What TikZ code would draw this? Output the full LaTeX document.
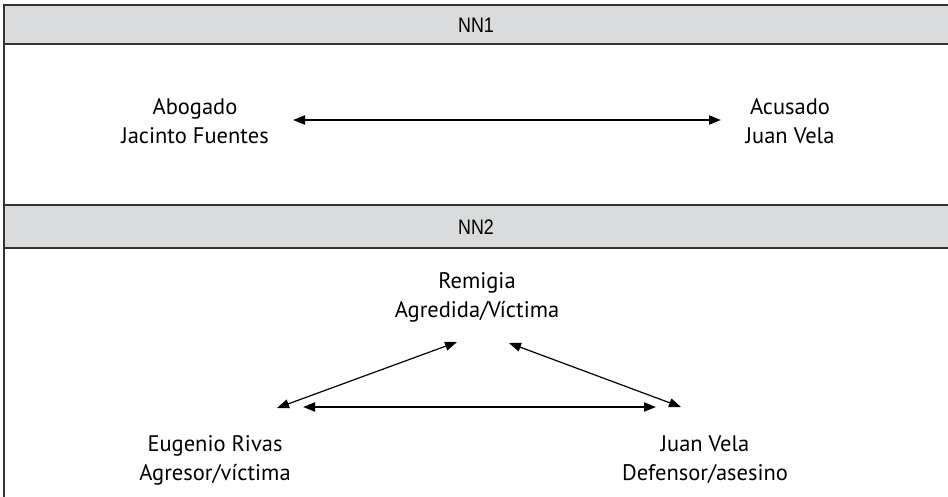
\documentclass[tikz,border=0pt]{standalone}
\usepackage{fontspec}
\setmainfont{PT Sans}
\newfontfamily\hdrfont[FakeStretch=0.85]{Liberation Sans}
\usetikzlibrary{arrows.meta}
\definecolor{hdrgrey}{HTML}{D9DADC}
\definecolor{framegrey}{HTML}{333333}
\tikzset{
  lbl/.style={align=center, font=\fontsize{22.5}{29}\selectfont, inner sep=0pt},
  hdr/.style={font=\hdrfont\fontsize{21}{22}\selectfont, inner sep=0pt},
  frameline/.style={draw=framegrey, line width=2pt},
  rel/.style={{Triangle[length=12pt,width=9pt]}-{Triangle[length=12pt,width=9pt]}, line width=1.2pt},
  rel2/.style={{Triangle[length=12pt,width=9pt]}-{Triangle[length=12pt,width=9pt]}, line width=2pt}
}
\begin{document}
\begin{tikzpicture}[x=1pt,y=-1pt]
\useasboundingbox (0,0) rectangle (948,496);
% header bands
\fill[hdrgrey] (4,5) rectangle (950,44);
\fill[hdrgrey] (4,205) rectangle (950,248);
\draw[frameline] (950,5) -- (4,5) -- (4,497);
\draw[frameline] (4,44) -- (950,44);
\draw[frameline] (4,205) -- (950,205);
\draw[frameline] (4,248) -- (950,248);
\node[hdr] (h1) at (476,25) {NN1};
\node[hdr] (h2) at (476,227) {NN2};
% section 1
\node[lbl] (abog) at (195,121) {Abogado\\Jacinto Fuentes};
\node[lbl] (acus) at (790,121) {Acusado\\Juan Vela};
\coordinate (a1) at (293,120);
\coordinate (a2) at (721,120);
\draw[rel2] (a1) -- (a2);
% section 2
\node[lbl] (remi) at (477,297) {Remigia\\Agredida/Víctima};
\node[lbl] (euge) at (215,460) {Eugenio Rivas\\Agresor/víctima};
\node[lbl] (juan) at (705,460) {Juan Vela\\Defensor/asesino};
\coordinate (t1) at (457,342);
\coordinate (t2) at (509,343);
\coordinate (l1) at (277,408);
\coordinate (r1) at (681,407);
\coordinate (hl) at (303,407);
\coordinate (hr) at (656,407);
\draw[rel] (l1) -- (t1);
\draw[rel] (r1) -- (t2);
\draw[rel2] (hl) -- (hr);
\end{tikzpicture}
\end{document}
